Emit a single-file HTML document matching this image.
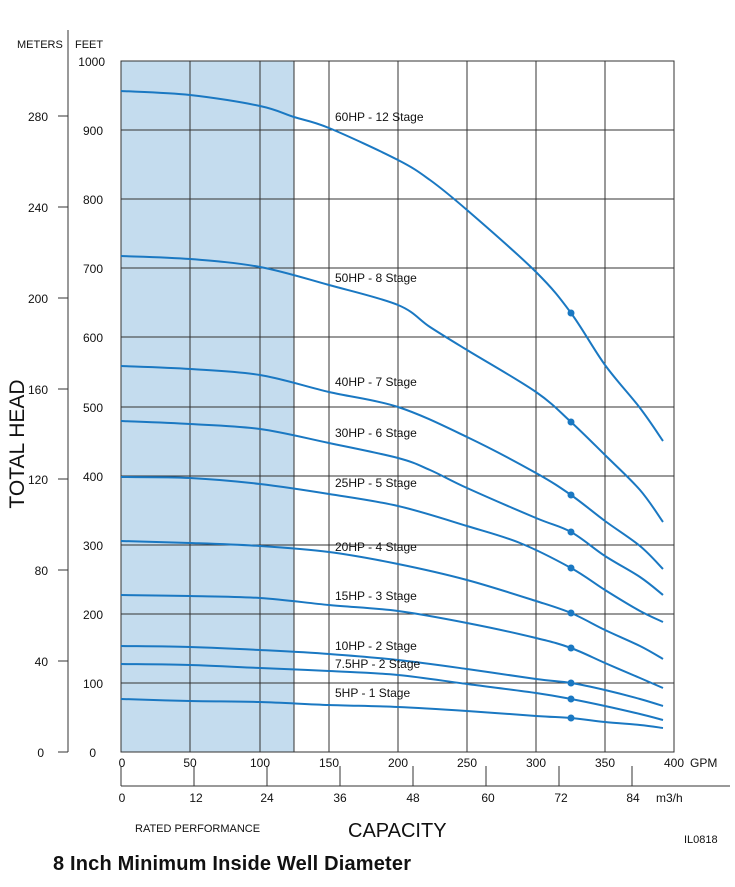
<!DOCTYPE html>
<html><head><meta charset="utf-8"><style>
body{margin:0;background:#fff}
svg text{font-family:"Liberation Sans",sans-serif;fill:#111}
</style></head><body>
<svg id="s" width="735" height="882" xmlns="http://www.w3.org/2000/svg">
<rect x="121" y="61" width="173" height="691" fill="#c4dcee"/>
<g stroke="#333" stroke-width="1" fill="none">
<rect x="121" y="61" width="553" height="691"/>
<path d="M190 61V752M260 61V752M329 61V752M398 61V752M467 61V752M536 61V752M605 61V752M294 61V752"/>
<path d="M121 130H674M121 199H674M121 268H674M121 337H674M121 407H674M121 476H674M121 545H674M121 614H674M121 683H674"/>
<path d="M68 30V752M58 116H68M58 207H68M58 298H68M58 389H68M58 479H68M58 570H68M58 661H68M58 752H68"/>
<path d="M121 786H730M121 766V786M194 766V786M267 766V786M340 766V786M413 766V786M486 766V786M559 766V786M632 766V786"/>
</g>
<g font-size="11">
<text x="17" y="48">METERS</text><text x="75" y="48">FEET</text>
</g>
<g font-size="12" text-anchor="end">
<text x="105" y="66">1000</text><text x="103" y="135">900</text><text x="103" y="204">800</text><text x="103" y="273">700</text><text x="103" y="342">600</text><text x="103" y="412">500</text><text x="103" y="481">400</text><text x="103" y="550">300</text><text x="103" y="619">200</text><text x="103" y="688">100</text><text x="96" y="757">0</text>
<text x="48" y="121">280</text><text x="48" y="212">240</text><text x="48" y="303">200</text><text x="48" y="394">160</text><text x="48" y="484">120</text><text x="48" y="575">80</text><text x="48" y="666">40</text><text x="44" y="757">0</text>
</g>
<g font-size="12" text-anchor="middle">
<text x="122" y="767">0</text><text x="190" y="767">50</text><text x="260" y="767">100</text><text x="329" y="767">150</text><text x="398" y="767">200</text><text x="467" y="767">250</text><text x="536" y="767">300</text><text x="605" y="767">350</text><text x="674" y="767">400</text>
<text x="122" y="802">0</text><text x="196" y="802">12</text><text x="267" y="802">24</text><text x="340" y="802">36</text><text x="413" y="802">48</text><text x="488" y="802">60</text><text x="561" y="802">72</text><text x="633" y="802">84</text>
</g>
<text x="690" y="767" font-size="12">GPM</text>
<text x="656" y="802" font-size="12">m3/h</text>
<text x="135" y="832" font-size="11">RATED PERFORMANCE</text>
<text x="348" y="837" font-size="20">CAPACITY</text>
<text x="684" y="843" font-size="11">IL0818</text>
<text x="53" y="870" font-size="20" font-weight="bold" textLength="358" lengthAdjust="spacing">8 Inch Minimum Inside Well Diameter</text>
<text transform="translate(24,444) rotate(-90)" font-size="21" text-anchor="middle">TOTAL HEAD</text>
<g id="curves" stroke="#1a78c2" stroke-width="2" fill="none" stroke-linejoin="round">
<polyline points="121,91 190,95 260,106 294,117 329,128 398,160 430,180 467,210 536,272 571,313 605,365 640,408 663,441"/>
<polyline points="121,256 190,259 260,267 329,285 398,305 430,327 467,350 536,392 571,422 605,455 640,490 663,522"/>
<polyline points="121,366 190,369 260,375 329,392 398,407 467,437 536,473 571,495 605,521 640,546 663,569"/>
<polyline points="121,421 190,424 260,429 329,443 398,458 430,470 467,488 536,518 571,532 605,556 640,577 663,595"/>
<polyline points="121,477 190,478 260,484 329,494 398,506 467,526 520,543 571,568 605,590 640,611 663,622"/>
<polyline points="121,541 190,543 260,546 329,552 398,564 467,580 536,601 571,613 605,630 640,646 663,659"/>
<polyline points="121,595 190,596 260,598 329,605 398,611 467,623 536,638 571,648 605,663 640,678 663,688"/>
<polyline points="121,646 190,647 260,650 329,654 398,660 467,669 536,679 571,683 605,690 640,699 663,706"/>
<polyline points="121,664 190,665 260,668 329,671 398,675 467,684 536,693 571,699 605,706 640,714 663,720"/>
<polyline points="121,699 190,701 260,702 329,705 398,707 467,711 536,716 571,718 605,722 640,725 663,728"/>
</g>
<g fill="#1a78c2">
<circle cx="571" cy="313" r="3.5"/><circle cx="571" cy="422" r="3.5"/><circle cx="571" cy="495" r="3.5"/><circle cx="571" cy="532" r="3.5"/><circle cx="571" cy="568" r="3.5"/><circle cx="571" cy="613" r="3.5"/><circle cx="571" cy="648" r="3.5"/><circle cx="571" cy="683" r="3.5"/><circle cx="571" cy="699" r="3.5"/><circle cx="571" cy="718" r="3.5"/>
</g>
<g font-size="12">
<text x="335" y="121">60HP - 12 Stage</text>
<text x="335" y="282">50HP - 8 Stage</text>
<text x="335" y="386">40HP - 7 Stage</text>
<text x="335" y="437">30HP - 6 Stage</text>
<text x="335" y="487">25HP - 5 Stage</text>
<text x="335" y="551">20HP - 4 Stage</text>
<text x="335" y="600">15HP - 3 Stage</text>
<text x="335" y="650">10HP - 2 Stage</text>
<text x="335" y="668">7.5HP - 2 Stage</text>
<text x="335" y="697">5HP - 1 Stage</text>
</g>
</svg>
<script>
document.querySelectorAll('#curves polyline').forEach(function(pl){
  var p=pl.getAttribute('points').trim().split(/\s+/).map(function(s){return s.split(',').map(Number);});
  var d='M'+p[0][0]+' '+p[0][1];
  for(var i=0;i<p.length-1;i++){
    var p0=p[i-1]||p[i],p1=p[i],p2=p[i+1],p3=p[i+2]||p2;
    var c1x=p1[0]+(p2[0]-p0[0])/6,c1y=p1[1]+(p2[1]-p0[1])/6;
    var c2x=p2[0]-(p3[0]-p1[0])/6,c2y=p2[1]-(p3[1]-p1[1])/6;
    d+=' C'+c1x.toFixed(1)+' '+c1y.toFixed(1)+' '+c2x.toFixed(1)+' '+c2y.toFixed(1)+' '+p2[0]+' '+p2[1];
  }
  var path=document.createElementNS('http://www.w3.org/2000/svg','path');
  path.setAttribute('d',d);
  pl.parentNode.replaceChild(path,pl);
});
</script>
</body></html>
